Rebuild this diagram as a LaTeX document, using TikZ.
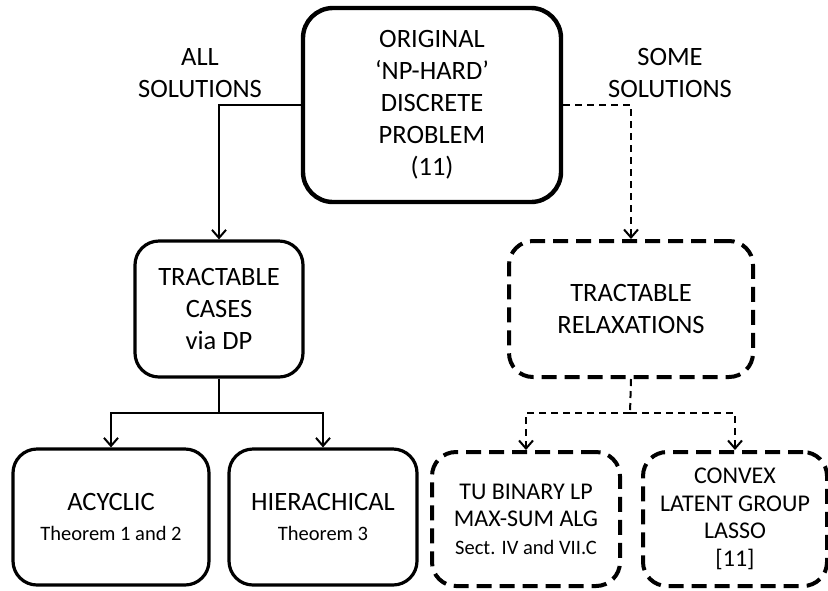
\documentclass[tikz,border=0pt]{standalone}
\usepackage{fontspec}
\setmainfont{Carlito}
\usetikzlibrary{arrows.meta}

\newcommand{\thmfont}{\fontsize{10.25}{13}\selectfont}
\tikzset{
  box/.style={draw,rounded corners=12pt,align=center,line width=1.6pt,inner sep=0pt,
    font=\fontsize{13.25}{16}\selectfont},
  dbox/.style={box,line width=2pt,dash pattern=on 7.5pt off 4pt},
  lowtext/.style={font=\fontsize{12}{13.75}\selectfont},
  link/.style={line width=1pt,-{Straight Barb[length=4pt,width=7pt,line width=1pt]}},
  dlink/.style={link,dash pattern=on 3.5pt off 2.5pt},
}

\begin{document}
\begin{tikzpicture}[x=0.5pt,y=-0.5pt]
  \useasboundingbox (0,0) rectangle (828,590);
  % top problem
  \node[box,line width=2.2pt,rounded corners=15pt,minimum width=129pt,minimum height=97pt] (orig) at (432,105)
    {ORIGINAL\\‘NP-HARD’\\DISCRETE\\PROBLEM\\(11)};
  \node[align=center,font=\fontsize{13.25}{16}\selectfont] (alllab) at (200,73) {ALL\\SOLUTIONS};
  \node[align=center,font=\fontsize{13.25}{16}\selectfont] (somelab) at (670,73) {SOME\\SOLUTIONS};
  % second row
  \node[box,minimum width=84pt,minimum height=68pt] (cases) at (219,309) {TRACTABLE\\CASES\\via DP};
  \node[dbox,minimum width=122pt,minimum height=68pt] (relax) at (631,309) {TRACTABLE\\RELAXATIONS};
  % bottom row
  \node[box,minimum width=98pt,minimum height=68pt] (acyc) at (111,517) {ACYCLIC\\[-1pt]{\thmfont Theorem 1 and 2}};
  \node[box,minimum width=94pt,minimum height=68pt] (hier) at (323,517) {HIERACHICAL\\[-1pt]{\thmfont Theorem 3}};
  \node[dbox,lowtext,minimum width=94pt,minimum height=67pt] (tulp) at (526,519) {TU BINARY LP\\MAX-SUM ALG\\{\thmfont Sect. IV and VII.C}};
  \node[dbox,lowtext,minimum width=92pt,minimum height=67pt] (lasso) at (735,519) {CONVEX\\LATENT GROUP\\LASSO\\{}[11]};
  \coordinate (split1) at (219,413);
  \coordinate (split2) at (630,413);
  % connectors
  \draw[link] (orig.west) -| (cases.north);
  \draw[dlink] (orig.east) -| (relax.north);
  \draw[line width=1pt] (cases.south) -- (split1);
  \draw[link] (split1) -| (acyc.north);
  \draw[link] (split1) -| (hier.north);
  \draw[line width=1pt,dash pattern=on 3.5pt off 2.5pt] (relax.south) -- (split2);
  \draw[dlink] (split2) -| (tulp.north);
  \draw[dlink] (split2) -| (lasso.north);
\end{tikzpicture}
\end{document}
